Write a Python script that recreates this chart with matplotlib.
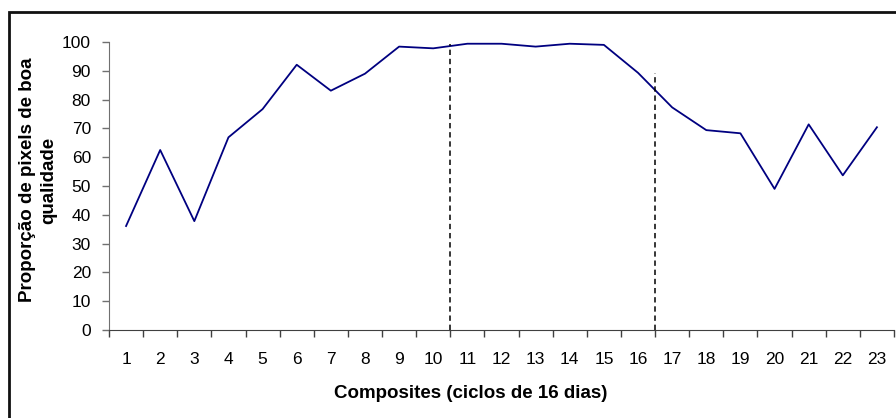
import matplotlib
matplotlib.use('Agg')
import matplotlib.pyplot as plt
from matplotlib.patches import Rectangle

plt.rcParams['font.family'] = ['Liberation Sans', 'DejaVu Sans']

# dados
composites = list(range(1, 24))
proporcao = [36.1, 62.5, 37.8, 66.9, 76.7, 92.1, 83.1, 89.0, 98.4, 97.8, 99.4, 99.4,
             98.4, 99.4, 99.0, 89.3, 77.3, 69.4, 68.3, 49.0, 71.4, 53.7, 70.4]
divisoes_x = [10.5, 16.5]
divisoes_topo = [99.2, 89.3]

fig = plt.figure(figsize=(8.96, 4.18), dpi=100)
ax = fig.add_axes([109 / 896, 1 - 330 / 418, 785 / 896, 288 / 418])

ax.plot(composites, proporcao, color='#000080', linewidth=1.3)
for xd, yt in zip(divisoes_x, divisoes_topo):
    ax.plot([xd, xd], [0, yt], color='black', linewidth=1.1, linestyle=(0, (3.5, 2.5)))

ax.set_xlim(0.5, 23.5)
ax.set_ylim(0, 100)
ax.set_yticks(range(0, 101, 10))
ax.set_xticks(composites)
ax.set_xticks([c + 0.5 for c in range(0, 24)], minor=True)

for s in ['top', 'right']:
    ax.spines[s].set_visible(False)
ax.spines['left'].set_color('#707070')
ax.spines['bottom'].set_color('#404040')
ax.tick_params(axis='y', direction='out', length=5, width=1, color='#707070',
               labelsize=12.5, pad=8)
ax.tick_params(axis='x', which='major', length=0, labelsize=12.5, pad=16)
ax.tick_params(axis='x', which='minor', direction='out', length=5, width=1, color='#404040')

fig.text(471 / 896, 1 - 393 / 418, 'Composites (ciclos de 16 dias)', ha='center', va='center',
         fontsize=13.5, fontweight='bold')
fig.text(38 / 896, 1 - 180 / 418, 'Proporção de pixels de boa\nqualidade', ha='center',
         va='center', rotation=90, multialignment='center', fontsize=13.5, fontweight='bold',
         linespacing=1.3)

# moldura do gráfico
fig.patches.append(Rectangle((9 / 896, -0.1), 1.2, 1.1 - 12 / 418, transform=fig.transFigure,
                             fill=False, edgecolor='#111111', linewidth=2))

fig.savefig('out.png', dpi=100)
